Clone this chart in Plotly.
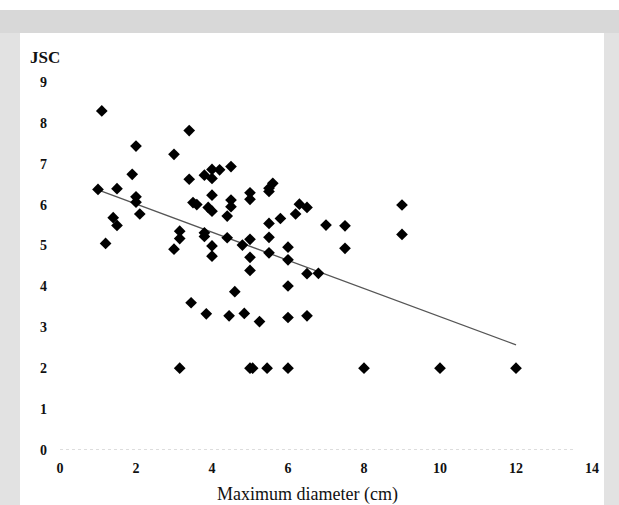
import plotly.graph_objects as go

# Data
diameter_cm = [1.0, 1.1, 1.2, 1.4, 1.5, 1.5, 1.9, 2.0, 2.0, 2.0, 2.1,
               3.0, 3.0, 3.15, 3.15, 3.15, 3.4, 3.4, 3.45, 3.5, 3.6,
               3.8, 3.8, 3.8, 3.85, 3.9, 4.0, 4.0, 4.0, 4.0, 4.0, 4.0,
               4.2, 4.4, 4.4, 4.45, 4.5, 4.5, 4.5, 4.6, 4.8, 4.85,
               5.0, 5.0, 5.0, 5.0, 5.0, 5.0, 5.07, 5.25, 5.45,
               5.5, 5.5, 5.6, 5.5, 5.5, 5.5, 5.8,
               6.0, 6.0, 6.0, 6.0, 6.0, 6.2, 6.3, 6.5, 6.5, 6.5, 6.8,
               7.0, 7.5, 7.5, 8.0, 9.0, 9.0, 10.0, 12.0]
jsc = [6.37, 8.29, 5.05, 5.68, 5.49, 6.39, 6.74, 7.43, 6.19, 6.06, 5.77,
       7.23, 4.91, 5.35, 5.17, 2.0, 7.81, 6.62, 3.6, 6.05, 6.0,
       6.72, 5.31, 5.22, 3.33, 5.93, 6.86, 6.64, 6.23, 5.84, 4.99, 4.74,
       6.85, 5.72, 5.19, 3.28, 6.93, 6.11, 5.95, 3.87, 5.01, 3.34,
       6.29, 6.13, 5.15, 4.71, 4.39, 2.0, 2.0, 3.14, 2.0,
       6.40, 6.32, 6.52, 5.54, 5.20, 4.82, 5.66,
       4.96, 4.65, 4.01, 3.24, 2.0, 5.77, 6.01, 5.93, 4.31, 3.28, 4.32,
       5.5, 5.48, 4.93, 2.0, 5.99, 5.27, 2.0, 2.0]

trend_x = [1.0, 12.0]
trend_y = [6.36, 2.57]

x_ticks = [0, 2, 4, 6, 8, 10, 12, 14]
y_ticks = [0, 1, 2, 3, 4, 5, 6, 7, 8, 9]

y_title = "JSC"
x_title = "Maximum diameter (cm)"

FONT = "Liberation Serif"
W, H = 619, 505
ML, MR, MT, MB = 60, 27, 60, 55
PW, PH = W - ML - MR, H - MT - MB


def px_x(px):
    return (px - ML) / PW


def px_y(py):
    return (H - MB - py) / PH


fig = go.Figure()
fig.add_trace(go.Scatter(
    x=trend_x, y=trend_y, mode="lines",
    line=dict(color="#555555", width=1.3),
    hoverinfo="skip", showlegend=False))
fig.add_trace(go.Scatter(
    x=diameter_cm, y=jsc, mode="markers",
    marker=dict(symbol="diamond", size=9, color="#000000",
                line=dict(width=0)),
    cliponaxis=False, showlegend=False))

# speckled scan frame approximated by light grey bands
frame = [
    dict(x0=0, x1=619, y0=10, y1=33, color="#d8d8d8"),
    dict(x0=0, x1=20, y0=33, y1=505, color="#e2e2e2"),
    dict(x0=604, x1=619, y0=33, y1=505, color="#e2e2e2"),
]
shapes = []
for f in frame:
    shapes.append(dict(type="rect", xref="paper", yref="paper",
                       x0=px_x(f["x0"]), x1=px_x(f["x1"]),
                       y0=px_y(f["y1"]), y1=px_y(f["y0"]),
                       fillcolor=f["color"], line=dict(width=0),
                       layer="below"))
# faint dotted baseline
shapes.append(dict(type="line", xref="x", yref="y",
                   x0=0, x1=13.5, y0=0, y1=0,
                   line=dict(color="#bbbbbb", width=1, dash="dot")))

fig.update_layout(
    width=W, height=H,
    margin=dict(l=ML, r=MR, t=MT, b=MB),
    paper_bgcolor="white", plot_bgcolor="white",
    shapes=shapes,
    font=dict(family=FONT, color="#111111", size=14),
    xaxis=dict(range=[0, 14], tickvals=x_ticks, showgrid=False,
               zeroline=False, showline=False, ticks="",
               ticklabelstandoff=8,
               tickfont=dict(family=FONT, size=14, weight="bold")),
    yaxis=dict(range=[0, PH / 40.9], tickvals=y_ticks, showgrid=False,
               zeroline=False, showline=False, ticks="",
               ticklabelstandoff=12,
               tickfont=dict(family=FONT, size=14, weight="bold")),
    annotations=[
        dict(text=y_title, xref="paper", yref="paper",
             x=px_x(45), y=px_y(57), xanchor="center",
             yanchor="middle", showarrow=False,
             font=dict(family=FONT, size=17, weight="bold")),
        dict(text=x_title, xref="paper", yref="paper",
             x=px_x(307), y=px_y(494), xanchor="center",
             yanchor="middle", showarrow=False,
             font=dict(family=FONT, size=18)),
    ],
)

fig.write_html("out.html", config={"displayModeBar": False},
               post_script="document.body.style.margin='0';")
